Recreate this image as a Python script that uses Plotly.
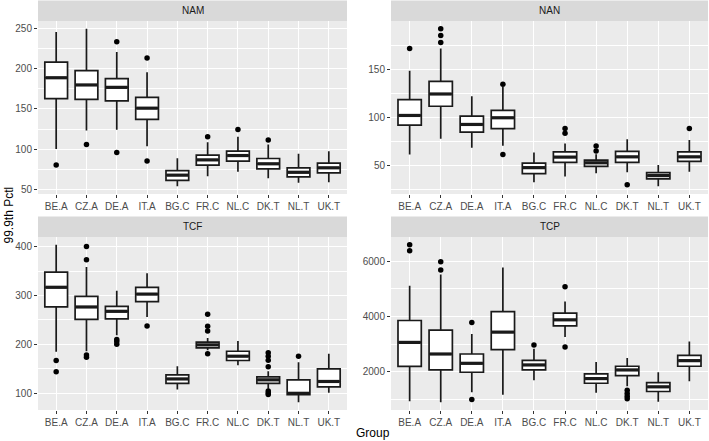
import plotly.graph_objects as go

W, H = 709, 441

groups = ["BE.A", "CZ.A", "DE.A", "IT.A", "BG.C", "FR.C", "NL.C", "DK.T", "NL.T", "UK.T"]
panels = ["NAM", "NAN", "TCF", "TCP"]

# Box statistics per panel: lower whisker, q1, median, q3, upper whisker
nam_low = [100, 123, 124, 103.5, 53.7, 66, 71.6, 63.6, 57.9, 58.7]
nam_q1 = [163, 162, 160, 137, 60.8, 79.9, 84.8, 75.3, 65.3, 70.3]
nam_med = [189, 180, 177, 151, 67.4, 86.5, 91.9, 81.6, 71, 76.6]
nam_q3 = [208.5, 198, 188, 164.5, 73, 92.3, 97.3, 88.2, 76.6, 82.3]
nam_high = [246, 250, 221, 196, 88.6, 108.5, 115.2, 105.6, 94, 97.3]
nam_out_x = ["BE.A", "CZ.A", "DE.A", "DE.A", "IT.A", "IT.A", "FR.C", "NL.C", "DK.T"]
nam_out_y = [80, 105.6, 234, 95.6, 213.5, 85, 115.2, 124.3, 111.4]

nan_low = [61.7, 78.2, 68.6, 70.7, 32.7, 38.6, 42, 43.1, 28.6, 43.7]
nan_q1 = [92.4, 112, 85, 88.6, 41.7, 53.4, 49.3, 53.4, 36.2, 54.5]
nan_med = [102.4, 124.8, 93, 100, 47.9, 58.9, 53, 59.2, 39.6, 59.2]
nan_q3 = [119, 138, 101.7, 107.6, 52.7, 64.4, 55.8, 64.8, 42.7, 64.4]
nan_high = [149, 172.4, 122.4, 132, 63.8, 73.1, 62, 77.5, 50.6, 76.8]
nan_out_x = ["BE.A", "CZ.A", "CZ.A", "CZ.A", "IT.A", "IT.A", "FR.C", "FR.C", "NL.C", "NL.C", "DK.T", "UK.T"]
nan_out_y = [172.4, 192.8, 186, 178.6, 135, 61.7, 88.9, 83.8, 70.6, 65.4, 30, 88.9]

tcf_low = [185, 186, 218.6, 256, 107.4, 187.8, 157, 108.9, 81.4, 100.6]
tcf_q1 = [277, 251.3, 252, 287.5, 119.7, 192.7, 166.8, 119.7, 96.5, 112.9]
tcf_med = [317, 276.6, 267.7, 303, 129, 198.9, 175.6, 127.2, 99.5, 123.8]
tcf_q3 = [348, 298.4, 278, 316.8, 137.4, 204.3, 185.8, 133.3, 127.2, 149.8]
tcf_high = [404, 358.4, 310, 346, 155, 213, 207, 144.9, 163.3, 180.4]
tcf_out_x = ["BE.A", "BE.A", "CZ.A", "CZ.A", "CZ.A", "CZ.A", "DE.A", "DE.A", "DE.A", "IT.A",
             "FR.C", "FR.C", "FR.C", "FR.C", "DK.T", "DK.T", "DK.T", "DK.T", "DK.T", "DK.T",
             "DK.T", "NL.T"]
tcf_out_y = [167, 143.6, 400.7, 373.4, 178.3, 173.6, 210, 205.6, 200, 237.7,
             261.5, 237, 227.5, 180.4, 182.5, 175.6, 167.4, 153.9, 104, 100,
             97.2, 175.6]

tcp_low = [944, 908, 1268, 1172, 1698, 3257, 1245, 1483, 922, 1662]
tcp_q1 = [2202, 2071, 1987, 2801, 2071, 3664, 1590, 1867, 1292, 2203]
tcp_med = [3065, 2646, 2310, 3436, 2251, 3880, 1759, 2071, 1461, 2406]
tcp_q3 = [3856, 3508, 2646, 4179, 2417, 4120, 1928, 2203, 1615, 2598]
tcp_high = [5113, 5521, 3364, 5772, 2837, 4538, 2359, 2503, 1986, 3101]
tcp_out_x = ["BE.A", "BE.A", "CZ.A", "CZ.A", "DE.A", "DE.A", "BG.C", "FR.C", "FR.C",
             "DK.T", "DK.T", "DK.T", "DK.T"]
tcp_out_y = [6587, 6371, 5976, 5677, 3784, 1004, 2970, 5077, 2898,
             1339, 1220, 1124, 1029]

nam_ticks = [50, 100, 150, 200, 250]
nan_ticks = [50, 100, 150]
tcf_ticks = [100, 200, 300, 400]
tcp_ticks = [2000, 4000, 6000]

data = {
    "NAM": (nam_low, nam_q1, nam_med, nam_q3, nam_high, nam_out_x, nam_out_y, nam_ticks),
    "NAN": (nan_low, nan_q1, nan_med, nan_q3, nan_high, nan_out_x, nan_out_y, nan_ticks),
    "TCF": (tcf_low, tcf_q1, tcf_med, tcf_q3, tcf_high, tcf_out_x, tcf_out_y, tcf_ticks),
    "TCP": (tcp_low, tcp_q1, tcp_med, tcp_q3, tcp_high, tcp_out_x, tcp_out_y, tcp_ticks),
}

# layout geometry (pixels)
col_x = [(38, 347), (391, 708)]
row_y = [(21, 194), (237, 410)]   # plot area top/bottom
strip_h = 20.5

BOXW = 0.75
fig = go.Figure()
layout = dict(
    width=W, height=H, margin=dict(l=0, r=0, t=0, b=0),
    paper_bgcolor="white", plot_bgcolor="#EBEBEB", showlegend=False,
    font=dict(family="Liberation Sans, Arial, sans-serif", size=10, color="#4D4D4D"),
)
shapes = []
annotations = []

idx = {g: i for i, g in enumerate(groups)}

for p, name in enumerate(panels):
    r, c = divmod(p, 2)
    low, q1, med, q3, high, ox, oy, ticks = data[name]
    xs = "x" if p == 0 else f"x{p+1}"
    ys = "y" if p == 0 else f"y{p+1}"
    xi = list(range(len(groups)))

    fig.add_trace(go.Box(
        x=xi, q1=q1, median=med, q3=q3, lowerfence=low, upperfence=high,
        boxpoints=False, width=BOXW, whiskerwidth=0,
        fillcolor="white", line=dict(color="#1a1a1a", width=1.7),
        xaxis=xs, yaxis=ys, hoverinfo="skip",
    ))
    # thick median (ggplot fatten)
    mx, my = [], []
    for i, m in zip(xi, med):
        mx += [i - BOXW / 2 + 0.02, i + BOXW / 2 - 0.02, None]
        my += [m, m, None]
    fig.add_trace(go.Scatter(x=mx, y=my, mode="lines",
                             line=dict(color="#1a1a1a", width=3.2),
                             xaxis=xs, yaxis=ys, hoverinfo="skip"))
    fig.add_trace(go.Scatter(x=[idx[g] for g in ox], y=oy, mode="markers",
                             marker=dict(color="black", size=5.5),
                             xaxis=xs, yaxis=ys, hoverinfo="skip"))

    allv = low + high + oy
    lo, hi = min(allv), max(allv)
    pad = 0.05 * (hi - lo)
    x0, x1 = col_x[c]
    yt, yb = row_y[r]
    step = ticks[1] - ticks[0]
    axx = dict(
        domain=[x0 / W, x1 / W], anchor=ys, range=[-0.6, len(groups) - 0.4],
        tickmode="array", tickvals=xi, ticktext=groups,
        showgrid=True, gridcolor="white", gridwidth=1.1, zeroline=False,
        ticks="outside", ticklen=3, tickcolor="#333333", tickwidth=1,
        showline=False, tickfont=dict(size=10, color="#4D4D4D"),
    )
    axy = dict(
        domain=[1 - yb / H, 1 - yt / H], anchor=xs, range=[lo - pad, hi + pad],
        tickmode="array", tickvals=ticks, ticktext=[str(t) for t in ticks],
        showgrid=True, gridcolor="white", gridwidth=1.1, zeroline=False,
        ticks="outside", ticklen=3, tickcolor="#333333", tickwidth=1,
        showline=False, tickfont=dict(size=10, color="#4D4D4D"),
        minor=dict(tickmode="linear", tick0=ticks[0] - step / 2, dtick=step,
                   showgrid=True, gridcolor="white", gridwidth=0.5, ticks=""),
    )
    layout["xaxis" if p == 0 else f"xaxis{p+1}"] = axx
    layout["yaxis" if p == 0 else f"yaxis{p+1}"] = axy

    # strip
    shapes.append(dict(type="rect", xref="paper", yref="paper",
                       x0=x0 / W, x1=x1 / W, y0=1 - yt / H, y1=1 - (yt - strip_h) / H,
                       fillcolor="#D9D9D9", line=dict(width=0), layer="below"))
    annotations.append(dict(text=name, xref="paper", yref="paper",
                            x=(x0 + x1) / 2 / W, y=1 - (yt - strip_h / 2) / H,
                            showarrow=False, xanchor="center", yanchor="middle",
                            font=dict(size=10, color="#1A1A1A")))

annotations.append(dict(text="Group", xref="paper", yref="paper",
                        x=(col_x[0][0] + col_x[1][1]) / 2 / W, y=1 - 433 / H,
                        showarrow=False, xanchor="center", yanchor="middle",
                        font=dict(size=12, color="black")))
annotations.append(dict(text="99.9th Pctl", xref="paper", yref="paper",
                        x=8 / W, y=1 - ((row_y[0][0] + row_y[1][1]) / 2) / H,
                        showarrow=False, xanchor="center", yanchor="middle",
                        textangle=-90, font=dict(size=12, color="black")))

layout["shapes"] = shapes
layout["annotations"] = annotations
fig.update_layout(**layout)
fig.write_html("out.html", config={"displayModeBar": False},
               post_script="document.body.style.margin='0';document.body.style.overflow='hidden';")
